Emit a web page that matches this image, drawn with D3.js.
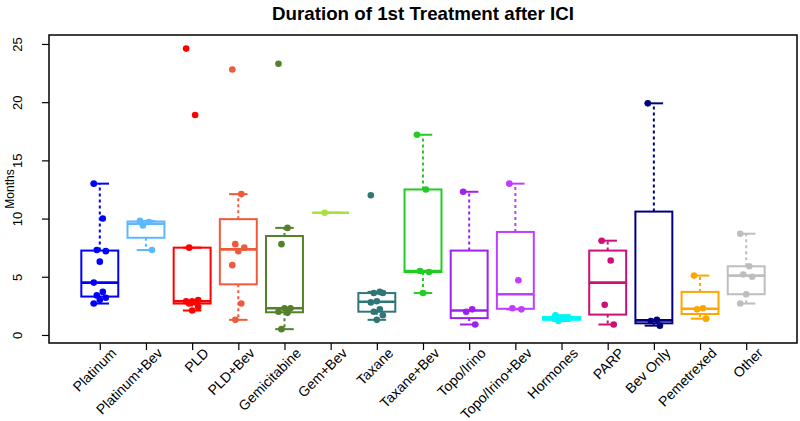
<!DOCTYPE html>
<html><head><meta charset="utf-8">
<script src="https://cdn.jsdelivr.net/npm/d3@7"></script>
<style>body{margin:0;background:#fff} svg{display:block}</style>
</head><body><svg id="c" width="800" height="421"></svg>
<script>
// ---- data ----
const categories = ["Platinum","Platinum+Bev","PLD","PLD+Bev","Gemicitabine","Gem+Bev","Taxane","Taxane+Bev","Topo/Irino","Topo/Irino+Bev","Hormones","PARP","Bev Only","Pemetrexed","Other"];
const platinum     = [13, 10, 7.3, 7.2, 6.3, 4.5, 3.7, 3.4, 3.2, 3.0, 2.7];
const platinumBev  = [9.8, 9.7, 9.4, 7.3];
const pld          = [24.6, 18.9, 7.5, 3.0, 2.9, 2.9, 2.8, 2.7, 2.4, 2.1];
const pldBev       = [22.8, 12.1, 7.8, 7.5, 7.2, 6.0, 2.7, 1.3];
const gemcitabine  = [23.3, 9.2, 7.8, 2.3, 2.3, 2.0, 1.9, 0.5];
const gemBev       = [10.5];
const taxane       = [12.0, 3.7, 3.6, 3.6, 2.9, 2.8, 2.2, 2.0, 1.7, 1.3];
const taxaneBev    = [17.2, 12.5, 5.5, 5.4, 3.6];
const topoIrino    = [12.3, 2.2, 2.0, 0.9];
const topoIrinoBev = [13.0, 4.7, 2.3, 2.2];
const hormones     = [1.7, 1.4, 1.2];
const parp         = [8.1, 6.4, 2.6, 0.9];
const bevOnly      = [19.9, 1.3, 1.2, 0.8];
const pemetrexed   = [5.1, 2.3, 2.2, 1.4];
const other        = [8.7, 5.9, 5.2, 5.0, 3.5, 2.7];
const seriesValues = [platinum, platinumBev, pld, pldBev, gemcitabine, gemBev, taxane, taxaneBev, topoIrino, topoIrinoBev, hormones, parp, bevOnly, pemetrexed, other];
const colors = ["#0000FF","#5CB8FF","#FF0000","#F05A3C","#55802A","#A8E03C","#2F7777","#22CC22","#A020F0","#BF3EFF","#00F5F5","#CD1076","#000080","#FFA500","#BEBEBE"];
const yTicks = [0, 5, 10, 15, 20, 25];
const titleText = "Duration of 1st Treatment after ICI";
const yLabel = "Months";

// ---- stats (R boxplot style) ----
function fivenum(arr){
  const x = arr.slice().sort((a,b)=>a-b), n = x.length;
  const n4 = Math.floor((n+3)/2)/2;
  const d = [1, n4, (n+1)/2, n+1-n4, n];
  return d.map(v => 0.5*(x[Math.floor(v)-1] + x[Math.ceil(v)-1]));
}
function boxStats(arr){
  const f = fivenum(arr), iqr = f[3]-f[1];
  const lo = f[1]-1.5*iqr, hi = f[3]+1.5*iqr;
  const inside = arr.filter(v => v>=lo && v<=hi);
  return {q1:f[1], med:f[2], q3:f[3], wlo:d3.min(inside), whi:d3.max(inside)};
}

// ---- layout ----
const svg = d3.select("#c");
const L = 49, R = 797, T = 35, B = 343;
const x = d3.scalePoint().domain(categories).range([L, R]).padding(1.1);
const y = d3.scaleLinear().domain([-0.69, 25.77]).range([B, T]);
const bw = x.step()*0.8, sw = x.step()*0.4;

// title
svg.append("text").attr("x", (L+R)/2).attr("y", 20).attr("text-anchor","middle")
  .attr("font-family","Liberation Sans, Arial, sans-serif").attr("font-weight","bold")
  .attr("font-size",19).attr("textLength",302).attr("lengthAdjust","spacingAndGlyphs")
  .text(titleText);

// y axis
const ya = svg.append("g").attr("transform",`translate(${L},0)`)
  .call(d3.axisLeft(y).tickValues(yTicks).tickSize(7).tickPadding(0));
ya.select(".domain").remove();
ya.selectAll(".tick line").attr("stroke","#000").attr("stroke-width",1.2);
ya.selectAll(".tick text").attr("font-family","Liberation Sans, Arial, sans-serif").attr("font-size",13)
  .attr("fill","#000").attr("x",null).attr("dy",null).attr("text-anchor","middle")
  .attr("transform","translate(-27,0) rotate(-90)");
svg.append("text").attr("transform",`translate(14,${(T+B)/2}) rotate(-90)`).attr("text-anchor","middle")
  .attr("font-family","Liberation Sans, Arial, sans-serif").attr("font-size",12).text(yLabel);

// x axis
const xa = svg.append("g").attr("transform",`translate(0,${B})`)
  .call(d3.axisBottom(x).tickSize(7).tickPadding(0));
xa.select(".domain").remove();
xa.selectAll(".tick line").attr("stroke","#000").attr("stroke-width",1.2);
xa.selectAll(".tick text").attr("font-family","Liberation Sans, Arial, sans-serif").attr("font-size",14)
  .attr("fill","#000").attr("y",null).attr("dy",null).attr("text-anchor","end")
  .attr("transform","translate(17,11) rotate(-45)");

// boxes
const g = svg.append("g");
categories.forEach((c,i) => {
  const vals = seriesValues[i], col = colors[i], cx = x(c), s = boxStats(vals);
  const gg = g.append("g").attr("stroke",col).attr("fill","none");
  gg.append("line").attr("x1",cx).attr("x2",cx).attr("y1",y(s.q3)).attr("y2",y(s.whi))
    .attr("stroke-width",2).attr("stroke-dasharray","3,3");
  gg.append("line").attr("x1",cx).attr("x2",cx).attr("y1",y(s.q1)).attr("y2",y(s.wlo))
    .attr("stroke-width",2).attr("stroke-dasharray","3,3");
  gg.append("line").attr("x1",cx-sw/2).attr("x2",cx+sw/2).attr("y1",y(s.whi)).attr("y2",y(s.whi)).attr("stroke-width",2);
  gg.append("line").attr("x1",cx-sw/2).attr("x2",cx+sw/2).attr("y1",y(s.wlo)).attr("y2",y(s.wlo)).attr("stroke-width",2);
  gg.append("rect").attr("x",cx-bw/2).attr("width",bw).attr("y",y(s.q3)).attr("height",Math.max(0,y(s.q1)-y(s.q3)))
    .attr("stroke-width",2);
  gg.append("line").attr("x1",cx-bw/2).attr("x2",cx+bw/2).attr("y1",y(s.med)).attr("y2",y(s.med)).attr("stroke-width",2.6);
  g.append("g").selectAll("circle").data(vals).join("circle")
    .attr("cx",(d,k) => cx + ((k*3)%5 - 2)*3)
    .attr("cy",d => y(d)).attr("r",3.3).attr("fill",col);
});

// frame
svg.append("rect").attr("x",L).attr("y",T).attr("width",R-L).attr("height",B-T)
  .attr("fill","none").attr("stroke","#000").attr("stroke-width",1.5);
</script></body></html>
